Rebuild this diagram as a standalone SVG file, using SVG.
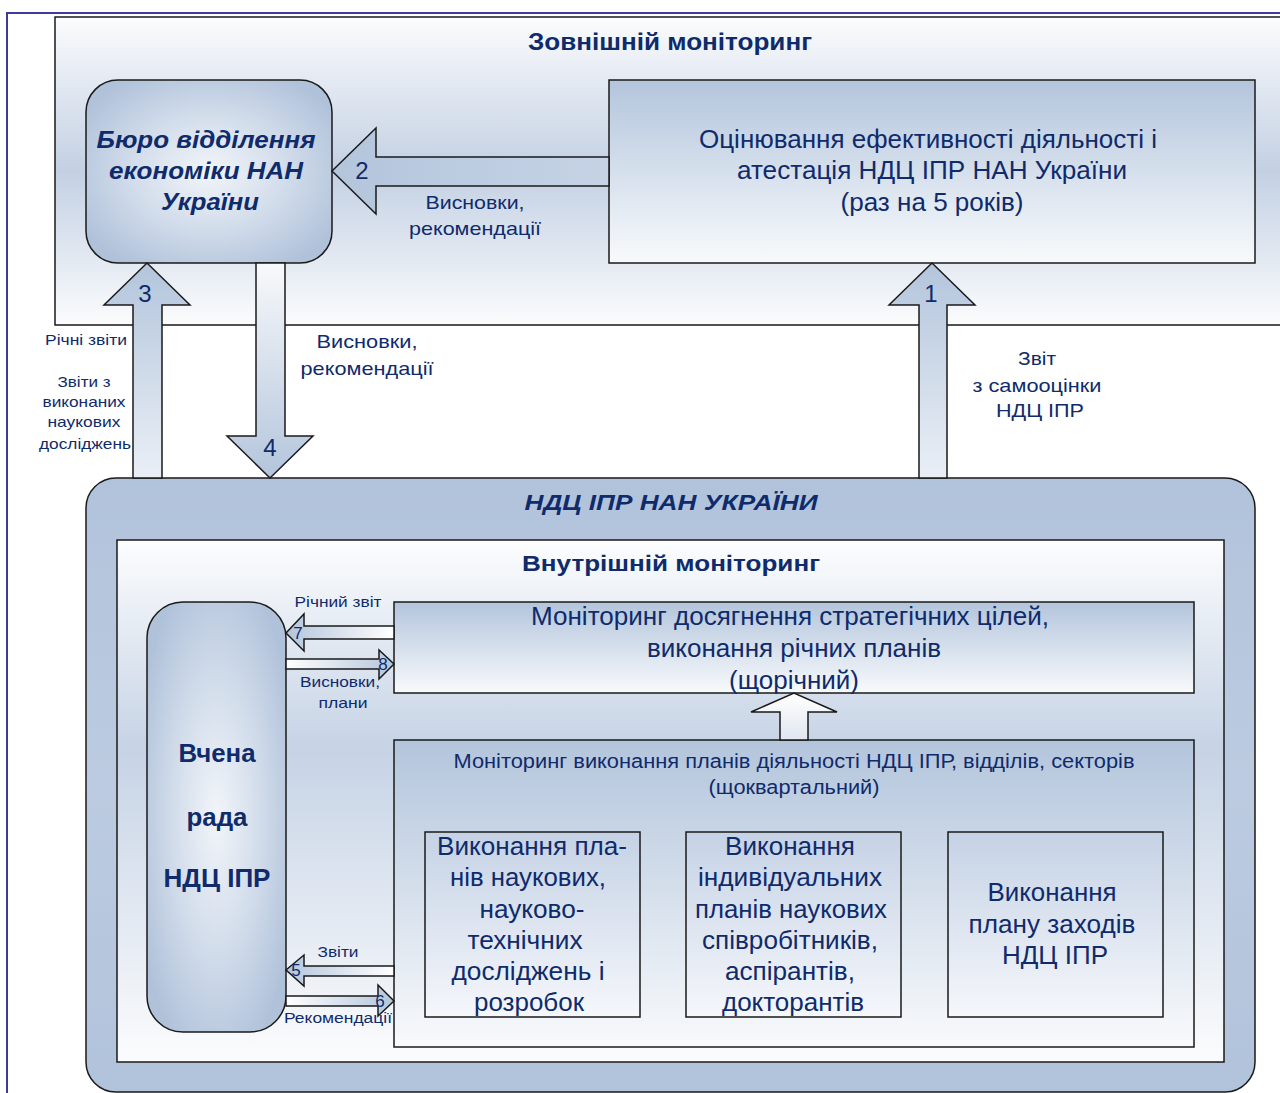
<svg xmlns="http://www.w3.org/2000/svg" width="1280" height="1093" viewBox="0 0 1280 1093">
<defs>
<linearGradient id="gExt" x1="0" y1="0" x2="0" y2="1">
<stop offset="0" stop-color="#fbfcfd"/><stop offset="0.5" stop-color="#c3d0e3"/><stop offset="1" stop-color="#fbfcfd"/>
</linearGradient>
<linearGradient id="gBox" x1="0" y1="0" x2="0" y2="1">
<stop offset="0" stop-color="#b3c5dc"/><stop offset="1" stop-color="#f8fafc"/>
</linearGradient>
<linearGradient id="gSmall" x1="0" y1="0" x2="0" y2="1">
<stop offset="0" stop-color="#c5d2e5"/><stop offset="1" stop-color="#f5f7fb"/>
</linearGradient>
<linearGradient id="gInner" x1="0" y1="0" x2="0" y2="1">
<stop offset="0" stop-color="#fcfdfe"/><stop offset="0.4" stop-color="#c6d3e5"/><stop offset="1" stop-color="#fbfcfd"/>
</linearGradient>
<linearGradient id="gNdc" x1="0" y1="0" x2="0" y2="1">
<stop offset="0" stop-color="#b1c3db"/><stop offset="0.5" stop-color="#bccbe0"/><stop offset="1" stop-color="#b1c3db"/>
</linearGradient>
<radialGradient id="gRound" cx="0.5" cy="0.5" r="0.6">
<stop offset="0" stop-color="#f2f5f9"/><stop offset="0.55" stop-color="#d0dbea"/><stop offset="1" stop-color="#b0c2da"/>
</radialGradient>
<linearGradient id="gUp" x1="0" y1="0" x2="0" y2="1">
<stop offset="0" stop-color="#b3c5dc"/><stop offset="1" stop-color="#eaeff6"/>
</linearGradient>
<linearGradient id="gDown" x1="0" y1="0" x2="0" y2="1">
<stop offset="0" stop-color="#f8f9fb"/><stop offset="1" stop-color="#b3c5dc"/>
</linearGradient>
<linearGradient id="gLeft" x1="0" y1="0" x2="1" y2="0">
<stop offset="0" stop-color="#b3c5dc"/><stop offset="1" stop-color="#c6d3e5"/>
</linearGradient>
<linearGradient id="gLeftS" x1="0" y1="0" x2="1" y2="0">
<stop offset="0" stop-color="#b3c5dc"/><stop offset="1" stop-color="#ffffff"/>
</linearGradient>
<linearGradient id="gRightS" x1="0" y1="0" x2="1" y2="0">
<stop offset="0" stop-color="#ffffff"/><stop offset="1" stop-color="#b3c5dc"/>
</linearGradient>
<linearGradient id="gUpW" x1="0" y1="0" x2="0" y2="1">
<stop offset="0" stop-color="#ffffff"/><stop offset="1" stop-color="#e0e7f0"/>
</linearGradient>
</defs>
<style>
text{font-family:"Liberation Sans","DejaVu Sans",sans-serif;fill:#0f2b6b;text-anchor:middle}
.n{font-family:"Liberation Sans Narrow","Liberation Sans","DejaVu Sans",sans-serif}
.b{font-weight:bold}
.bi{font-weight:bold;font-style:italic}
.box{stroke:#1a1a1a;stroke-width:1.5}
.arr{stroke:#1a1a1a;stroke-width:1.5;stroke-linejoin:miter}
</style>
<rect width="1280" height="1093" fill="#ffffff"/>
<polyline points="7,1093 7,13 1280,13" fill="none" stroke="#3c3c9c" stroke-width="2"/>

<g id="external-monitoring">
<rect class="box" x="55" y="17" width="1240" height="308" fill="url(#gExt)"/>
<text class="b" x="670" y="50" font-size="23" textLength="284" lengthAdjust="spacingAndGlyphs">Зовнішній моніторинг</text>
</g>

<g id="bureau">
<rect class="box" x="86" y="80" width="246" height="183" rx="32" fill="url(#gRound)"/>
<text class="bi" x="206" y="148" font-size="24" textLength="219" lengthAdjust="spacingAndGlyphs">Бюро відділення</text>
<text class="bi" x="206" y="179" font-size="24" textLength="194" lengthAdjust="spacingAndGlyphs">економіки НАН</text>
<text class="bi" x="210" y="210" font-size="24" textLength="98" lengthAdjust="spacingAndGlyphs">України</text>
</g>

<g id="evaluation">
<rect class="box" x="609" y="80" width="646" height="183" fill="url(#gBox)"/>
<text class="n" x="928" y="148" font-size="25" textLength="458" lengthAdjust="spacingAndGlyphs">Оцінювання ефективності діяльності і</text>
<text class="n" x="932" y="179" font-size="25" textLength="390" lengthAdjust="spacingAndGlyphs">атестація НДЦ ІПР НАН України</text>
<text class="n" x="932" y="211" font-size="25" textLength="183" lengthAdjust="spacingAndGlyphs">(раз на 5 років)</text>
</g>

<g id="ndc">
<rect class="box" x="86" y="478" width="1169" height="614" rx="30" fill="url(#gNdc)"/>
<text class="bi" x="671" y="510" font-size="22" textLength="293" lengthAdjust="spacingAndGlyphs">НДЦ ІПР НАН УКРАЇНИ</text>
</g>

<g id="internal-monitoring">
<rect class="box" x="117" y="540" width="1107" height="522" fill="url(#gInner)"/>
<text class="b" x="671" y="571" font-size="22" textLength="298" lengthAdjust="spacingAndGlyphs">Внутрішній моніторинг</text>
</g>

<g id="academic-council">
<rect class="box" x="147" y="602" width="139" height="430" rx="36" fill="url(#gRound)"/>
<text class="b" x="217" y="762" font-size="25" textLength="77" lengthAdjust="spacingAndGlyphs">Вчена</text>
<text class="b" x="217" y="826" font-size="25" textLength="61" lengthAdjust="spacingAndGlyphs">рада</text>
<text class="b" x="217" y="887" font-size="25" textLength="107" lengthAdjust="spacingAndGlyphs">НДЦ ІПР</text>
</g>

<g id="strategic-monitoring">
<rect class="box" x="394" y="602" width="800" height="91" fill="url(#gBox)"/>
<text class="n" x="790" y="625" font-size="25" textLength="518" lengthAdjust="spacingAndGlyphs">Моніторинг досягнення стратегічних цілей,</text>
<text class="n" x="794" y="657" font-size="25" textLength="294" lengthAdjust="spacingAndGlyphs">виконання річних планів</text>
<text class="n" x="794" y="689" font-size="25" textLength="130" lengthAdjust="spacingAndGlyphs">(щорічний)</text>
</g>

<g id="quarterly-monitoring">
<rect class="box" x="394" y="740" width="800" height="307" fill="url(#gBox)"/>
<text class="n" x="794" y="768" font-size="20" textLength="681" lengthAdjust="spacingAndGlyphs">Моніторинг виконання планів діяльності НДЦ ІПР, відділів, секторів</text>
<text class="n" x="794" y="794" font-size="20" textLength="171" lengthAdjust="spacingAndGlyphs">(щоквартальний)</text>
</g>

<g id="box-plans">
<rect class="box" x="425" y="832" width="215" height="185" fill="url(#gSmall)"/>
<text class="n" x="532" y="855" font-size="25" textLength="190" lengthAdjust="spacingAndGlyphs">Виконання пла-</text>
<text class="n" x="528" y="886" font-size="25" textLength="156" lengthAdjust="spacingAndGlyphs">нів наукових,</text>
<text class="n" x="532" y="918" font-size="25" textLength="105" lengthAdjust="spacingAndGlyphs">науково-</text>
<text class="n" x="525" y="949" font-size="25" textLength="115" lengthAdjust="spacingAndGlyphs">технічних</text>
<text class="n" x="528" y="980" font-size="25" textLength="153" lengthAdjust="spacingAndGlyphs">досліджень і</text>
<text class="n" x="529" y="1011" font-size="25" textLength="110" lengthAdjust="spacingAndGlyphs">розробок</text>
</g>

<g id="box-individual">
<rect class="box" x="686" y="832" width="215" height="185" fill="url(#gSmall)"/>
<text class="n" x="790" y="855" font-size="25" textLength="130" lengthAdjust="spacingAndGlyphs">Виконання</text>
<text class="n" x="790" y="886" font-size="25" textLength="184" lengthAdjust="spacingAndGlyphs">індивідуальних</text>
<text class="n" x="791" y="918" font-size="25" textLength="192" lengthAdjust="spacingAndGlyphs">планів наукових</text>
<text class="n" x="790" y="949" font-size="25" textLength="176" lengthAdjust="spacingAndGlyphs">співробітників,</text>
<text class="n" x="790" y="980" font-size="25" textLength="130" lengthAdjust="spacingAndGlyphs">аспірантів,</text>
<text class="n" x="793" y="1011" font-size="25" textLength="142" lengthAdjust="spacingAndGlyphs">докторантів</text>
</g>

<g id="box-measures">
<rect class="box" x="948" y="832" width="215" height="185" fill="url(#gSmall)"/>
<text class="n" x="1052" y="901" font-size="25" textLength="129" lengthAdjust="spacingAndGlyphs">Виконання</text>
<text class="n" x="1052" y="933" font-size="25" textLength="167" lengthAdjust="spacingAndGlyphs">плану заходів</text>
<text class="n" x="1055" y="964" font-size="25" textLength="106" lengthAdjust="spacingAndGlyphs">НДЦ ІПР</text>
</g>

<g id="connectors">
<!-- 2 -->
<polygon class="arr" points="609,157 376,157 376,128 332,171 376,214 376,186 609,186" fill="url(#gLeft)"/>
<text x="362" y="179" font-size="24">2</text>
<text x="475" y="209" font-size="19" textLength="99" lengthAdjust="spacingAndGlyphs">Висновки,</text>
<text x="475" y="235" font-size="19" textLength="132" lengthAdjust="spacingAndGlyphs">рекомендації</text>
<!-- 3 -->
<polygon class="arr" points="133,478 133,305 104,305 147,263 190,305 162,305 162,478" fill="url(#gUp)"/>
<text x="145" y="302" font-size="24">3</text>
<text x="86" y="345" font-size="14" textLength="82" lengthAdjust="spacingAndGlyphs">Річні звіти</text>
<text x="84" y="387" font-size="15" textLength="53" lengthAdjust="spacingAndGlyphs">Звіти з</text>
<text x="84" y="407" font-size="15" textLength="83" lengthAdjust="spacingAndGlyphs">виконаних</text>
<text x="84" y="427" font-size="15" textLength="73" lengthAdjust="spacingAndGlyphs">наукових</text>
<text x="85" y="449" font-size="15" textLength="92" lengthAdjust="spacingAndGlyphs">досліджень</text>
<!-- 4 -->
<polygon class="arr" points="256,263 256,436 227,436 270,478 313,436 285,436 285,263" fill="url(#gDown)"/>
<text x="270" y="456" font-size="24">4</text>
<text x="367" y="348" font-size="19" textLength="101" lengthAdjust="spacingAndGlyphs">Висновки,</text>
<text x="367" y="375" font-size="19" textLength="133" lengthAdjust="spacingAndGlyphs">рекомендації</text>
<!-- 1 -->
<polygon class="arr" points="919,478 919,305 889,305 932,263 975,305 947,305 947,478" fill="url(#gUp)"/>
<text x="931" y="302" font-size="24">1</text>
<text x="1037" y="365" font-size="19" textLength="38" lengthAdjust="spacingAndGlyphs">Звіт</text>
<text x="1037" y="392" font-size="19" textLength="129" lengthAdjust="spacingAndGlyphs">з самооцінки</text>
<text x="1040" y="417" font-size="19" textLength="88" lengthAdjust="spacingAndGlyphs">НДЦ ІПР</text>
<!-- up between monitoring boxes -->
<polygon class="arr" points="780,740 780,712 751,712 794,693 837,712 808,712 808,740" fill="url(#gUpW)"/>
<!-- 7 -->
<polygon class="arr" points="394,626 304,626 304,614 286,633 304,651 304,639 394,639" fill="url(#gLeftS)"/>
<text x="298" y="639" font-size="17">7</text>
<text x="338" y="607" font-size="14" textLength="87" lengthAdjust="spacingAndGlyphs">Річний звіт</text>
<!-- 8 -->
<polygon class="arr" points="286,659 379,659 379,650 394,664 379,679 379,669 286,669" fill="url(#gRightS)"/>
<text x="383" y="670" font-size="17">8</text>
<text x="340" y="687" font-size="14.5" textLength="80" lengthAdjust="spacingAndGlyphs">Висновки,</text>
<text x="343" y="708" font-size="14.5" textLength="49" lengthAdjust="spacingAndGlyphs">плани</text>
<!-- 5 -->
<polygon class="arr" points="394,966 304,966 304,955 286,970 304,986 304,976 394,976" fill="url(#gLeftS)"/>
<text x="296" y="976" font-size="17">5</text>
<text x="338" y="957" font-size="14" textLength="41" lengthAdjust="spacingAndGlyphs">Звіти</text>
<!-- 6 -->
<polygon class="arr" points="286,996 378,996 378,985 394,1001 378,1016 378,1006 286,1006" fill="url(#gRightS)"/>
<text x="380" y="1007" font-size="17">6</text>
<text x="338" y="1023" font-size="14" textLength="108" lengthAdjust="spacingAndGlyphs">Рекомендації</text>
</g>
</svg>
